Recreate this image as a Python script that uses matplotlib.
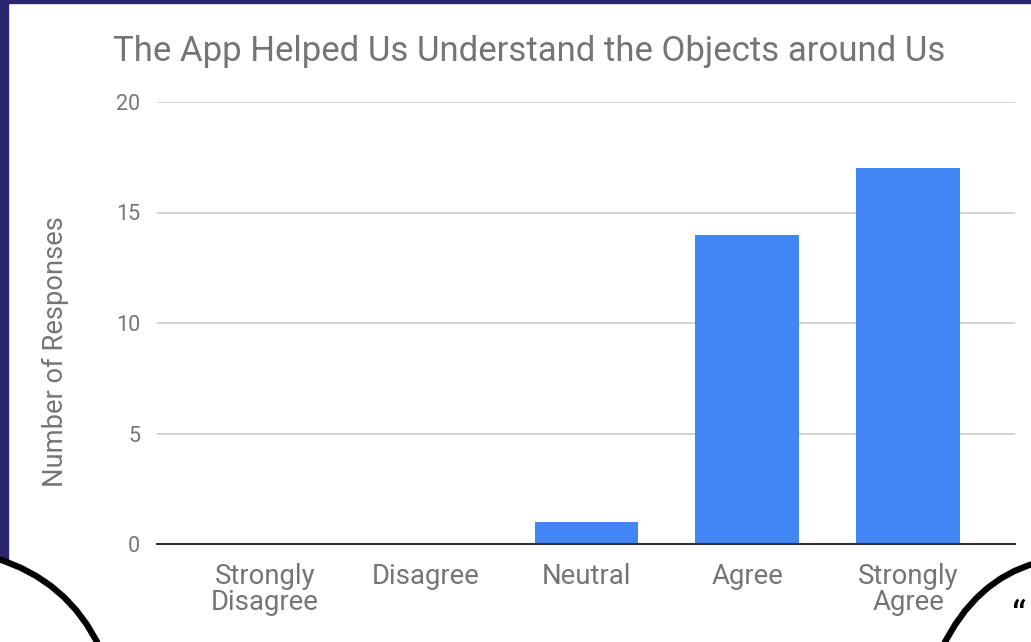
import matplotlib.pyplot as plt
from matplotlib.path import Path
from matplotlib.patches import PathPatch, Rectangle

categories = ['Strongly\nDisagree', 'Disagree', 'Neutral', 'Agree', 'Strongly\nAgree']
responses = [0, 0, 1, 14, 17]
y_ticks = [0, 5, 10, 15, 20]

plt.rcParams['font.family'] = ['Roboto', 'DejaVu Sans']
grey = '#757575'

fig = plt.figure(figsize=(10.31, 6.42), dpi=100)
W, H = 1031, 642

# slide frame: navy strips on the left and top
fig.patches.append(Rectangle((0, 1 - 560 / H), 8 / W, 560 / H, transform=fig.transFigure,
                             color='#2a2670', zorder=0))
fig.patches.append(Rectangle((0, 1 - 3 / H), 1, 3 / H, transform=fig.transFigure,
                             color='#2a2670', zorder=0))

ax = fig.add_axes([157 / W, 1 - 544 / H, 858 / W, 442 / H])
x = range(len(categories))
ax.bar(x, responses, width=0.645, color='#4285f4', zorder=3)
ax.set_xlim(-0.67, 4.665)
ax.set_ylim(0, 20)
ax.set_yticks(y_ticks)
ax.set_xticks(list(x))
ax.set_xticklabels(categories, fontsize=19.8, color=grey, linespacing=0.92)
ax.tick_params(axis='y', labelsize=15.5, labelcolor=grey, length=0, pad=12)
ax.tick_params(axis='x', length=0, pad=14)
ax.grid(axis='y', color='#cccccc', linewidth=1.2, zorder=0)
for side in ['top', 'right', 'left']:
    ax.spines[side].set_visible(False)
ax.spines['bottom'].set_color('#333333')
ax.spines['bottom'].set_linewidth(1.5)
ax.spines['bottom'].set_zorder(4)

fig.text(55 / W, 1 - 352 / H, 'Number of Responses', fontsize=19.7, color=grey,
         rotation=90, ha='center', va='center')
fig.text(113 / W, 1 - 51 / H, 'The App Helped Us Understand the Objects around Us',
         fontsize=25, color=grey, ha='left', va='center')

# speech-bubble outlines at the bottom corners
def curve(pts):
    verts = [(px / W, 1 - py / H) for px, py in pts]
    p = Path(verts, [Path.MOVETO, Path.CURVE3, Path.CURVE3])
    fig.patches.append(PathPatch(p, transform=fig.transFigure, fill=False,
                                 edgecolor='black', linewidth=4.5, zorder=5))

curve([(-5, 558), (68, 580), (100, 648)])
curve([(1036, 563), (975, 580), (942, 648)])
fig.text(1012 / W, 1 - 618 / H, '\u201c', fontsize=28, color='black', ha='left', va='center')

fig.savefig('out.png', dpi=100, facecolor='white')
